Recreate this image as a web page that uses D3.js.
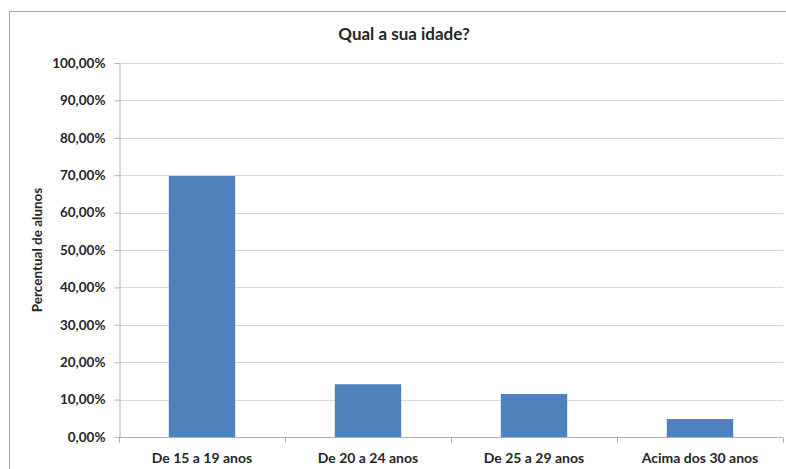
<!DOCTYPE html>
<html>
<head>
<meta charset="utf-8">
<script src="https://d3js.org/d3.v7.min.js"></script>
<style>
  body { margin: 0; background: #fff; }
  svg text { font-family: Lato, "Open Sans", sans-serif; font-weight: bold; fill: #262626; }
  .grid line { stroke: #d9d9d9; stroke-width: 1px; }
  .axis path, .axis line { stroke: #b0b0b0; }
</style>
</head>
<body>
<script>
// data
var categories = ["De 15 a 19 anos", "De 20 a 24 anos", "De 25 a 29 anos", "Acima dos 30 anos"];
var values = [0.698, 0.141, 0.115, 0.048];
var yTicks = [0, 0.1, 0.2, 0.3, 0.4, 0.5, 0.6, 0.7, 0.8, 0.9, 1.0];

var W = 786, H = 469;
var margin = {top: 63, right: 3, bottom: 32, left: 119};
var width = W - margin.left - margin.right,
    height = H - margin.top - margin.bottom;

var svg = d3.select("body").append("svg")
    .attr("width", W)
    .attr("height", H);

// chart frame
svg.append("rect")
    .attr("x", 9.5).attr("y", 11.5)
    .attr("width", W + 10).attr("height", H + 10)
    .attr("fill", "#fff")
    .attr("stroke", "#a6a6a6");

var g = svg.append("g")
    .attr("transform", "translate(" + margin.left + "," + margin.top + ")");

var x = d3.scaleBand().domain(categories).range([0, width]).paddingInner(0.6).paddingOuter(0.3);
var y = d3.scaleLinear().domain([0, 1]).range([height, 0]);

var fmt = function(d) { return d3.format(".2f")(d * 100).replace(".", ",") + "%"; };

// horizontal gridlines
g.append("g")
    .attr("class", "grid")
    .selectAll("line")
    .data(yTicks.slice(1))
    .enter().append("line")
    .attr("x1", 0).attr("x2", width)
    .attr("y1", function(d) { return Math.round(y(d)) + 0.5; })
    .attr("y2", function(d) { return Math.round(y(d)) + 0.5; });

// bars
g.selectAll(".bar")
    .data(values)
    .enter().append("rect")
    .attr("class", "bar")
    .attr("x", function(d, i) { return x(categories[i]); })
    .attr("width", x.bandwidth())
    .attr("y", function(d) { return y(d); })
    .attr("height", function(d) { return height - y(d); })
    .attr("fill", "#4f81bd");

// y axis
var yAxis = g.append("g")
    .attr("class", "axis")
    .attr("transform", "translate(0.5,0)")
    .call(d3.axisLeft(y).tickValues(yTicks).tickFormat(fmt).tickSize(5).tickSizeOuter(0));
yAxis.selectAll("text").attr("x", -14).style("font-size", "13.5px");

// x axis with ticks between categories
var xAxis = g.append("g")
    .attr("class", "axis")
    .attr("transform", "translate(0," + (Math.round(height) + 0.5) + ")");
xAxis.append("line").attr("x1", 0).attr("x2", width).attr("stroke", "#b0b0b0");
var step = width / categories.length;
xAxis.selectAll(".tk")
    .data(d3.range(categories.length + 1))
    .enter().append("line")
    .attr("class", "tk")
    .attr("x1", function(d) { return Math.round(d * step) + 0.5; })
    .attr("x2", function(d) { return Math.round(d * step) + 0.5; })
    .attr("y1", 0).attr("y2", 5)
    .attr("stroke", "#b0b0b0");
xAxis.selectAll(".lbl")
    .data(categories)
    .enter().append("text")
    .attr("x", function(d) { return x(d) + x.bandwidth() / 2; })
    .attr("y", 25)
    .attr("text-anchor", "middle")
    .style("font-size", "14px")
    .text(function(d) { return d; });

// title
svg.append("text")
    .attr("x", 404).attr("y", 40)
    .attr("text-anchor", "middle")
    .style("font-size", "17px")
    .text("Qual a sua idade?");

// y axis title
svg.append("text")
    .attr("transform", "translate(42," + (margin.top + height / 2) + ") rotate(-90)")
    .attr("text-anchor", "middle")
    .style("font-size", "13.5px")
    .text("Percentual de alunos");
</script>
</body>
</html>
